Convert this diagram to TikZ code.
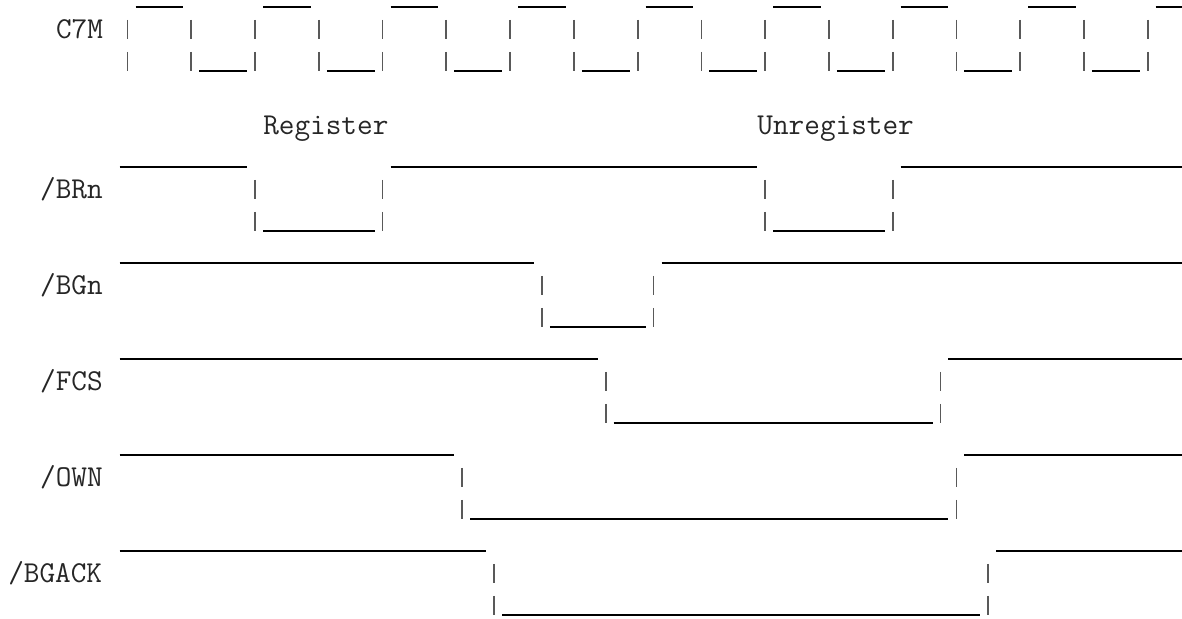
\documentclass[tikz,border=0pt]{standalone}
\begin{document}
\begin{tikzpicture}[x=11.955pt,y=-24pt,
    hline/.style={line width=1.2pt,black},
    vline/.style={line width=1.3pt,black!65},
    lbl/.style={anchor=base west,inner sep=0pt,text=black!85,
      font=\fontsize{22.77}{27}\selectfont\ttfamily}]
            \useasboundingbox (-0.502,-0.219) rectangle (73.65,19.094);

            % clock
            \node[lbl] (c7m) at (3,0.97) {C7M};
            \foreach \c in {8,16,...,64} \draw[hline] (\c,0) -- ++(3,0);
            \draw[hline] (72,0) -- (74,0);
            \foreach \c in {7,11,...,71} \foreach \r in {1,2}
             \draw[vline] (\c+0.5,\r-0.6) -- (\c+0.5,\r);
            \foreach \c in {12,20,...,68} \draw[hline] (\c,2) -- ++(3,0);

            \node[lbl] (reg) at (16,3.97) {Register};
            \node[lbl] (unreg) at (47,3.97) {Unregister};

            % /BRn
            \node[lbl] (brn) at (2,5.97) {/BRn};
            \draw[hline] (7,5) -- (15,5);
            \draw[hline] (24,5) -- (47,5);
            \draw[hline] (56,5) -- (74,5);
            \foreach \c in {15,23,47,55} \foreach \r in {6,7}
             \draw[vline] (\c+0.5,\r-0.6) -- (\c+0.5,\r);
            \draw[hline] (16,7) -- (23,7);
            \draw[hline] (48,7) -- (55,7);

            % /BGn
            \node[lbl] (bgn) at (2,8.97) {/BGn};
            \draw[hline] (7,8) -- (33,8);
            \draw[hline] (41,8) -- (74,8);
            \foreach \c in {33,40} \foreach \r in {9,10}
             \draw[vline] (\c+0.5,\r-0.6) -- (\c+0.5,\r);
            \draw[hline] (34,10) -- (40,10);

            % /FCS
            \node[lbl] (fcs) at (2,11.97) {/FCS};
            \draw[hline] (7,11) -- (37,11);
            \draw[hline] (59,11) -- (74,11);
            \foreach \c in {37,58} \foreach \r in {12,13}
             \draw[vline] (\c+0.5,\r-0.6) -- (\c+0.5,\r);
            \draw[hline] (38,13) -- (58,13);

            % /OWN
            \node[lbl] (own) at (2,14.97) {/OWN};
            \draw[hline] (7,14) -- (28,14);
            \draw[hline] (60,14) -- (74,14);
            \foreach \c in {28,59} \foreach \r in {15,16}
             \draw[vline] (\c+0.5,\r-0.6) -- (\c+0.5,\r);
            \draw[hline] (29,16) -- (59,16);

            % /BGACK
            \node[lbl] (bgack) at (0,17.97) {/BGACK};
            \draw[hline] (7,17) -- (30,17);
            \draw[hline] (62,17) -- (74,17);
            \foreach \c in {30,61} \foreach \r in {18,19}
             \draw[vline] (\c+0.5,\r-0.6) -- (\c+0.5,\r);
            \draw[hline] (31,19) -- (61,19);
\end{tikzpicture}
\end{document}
